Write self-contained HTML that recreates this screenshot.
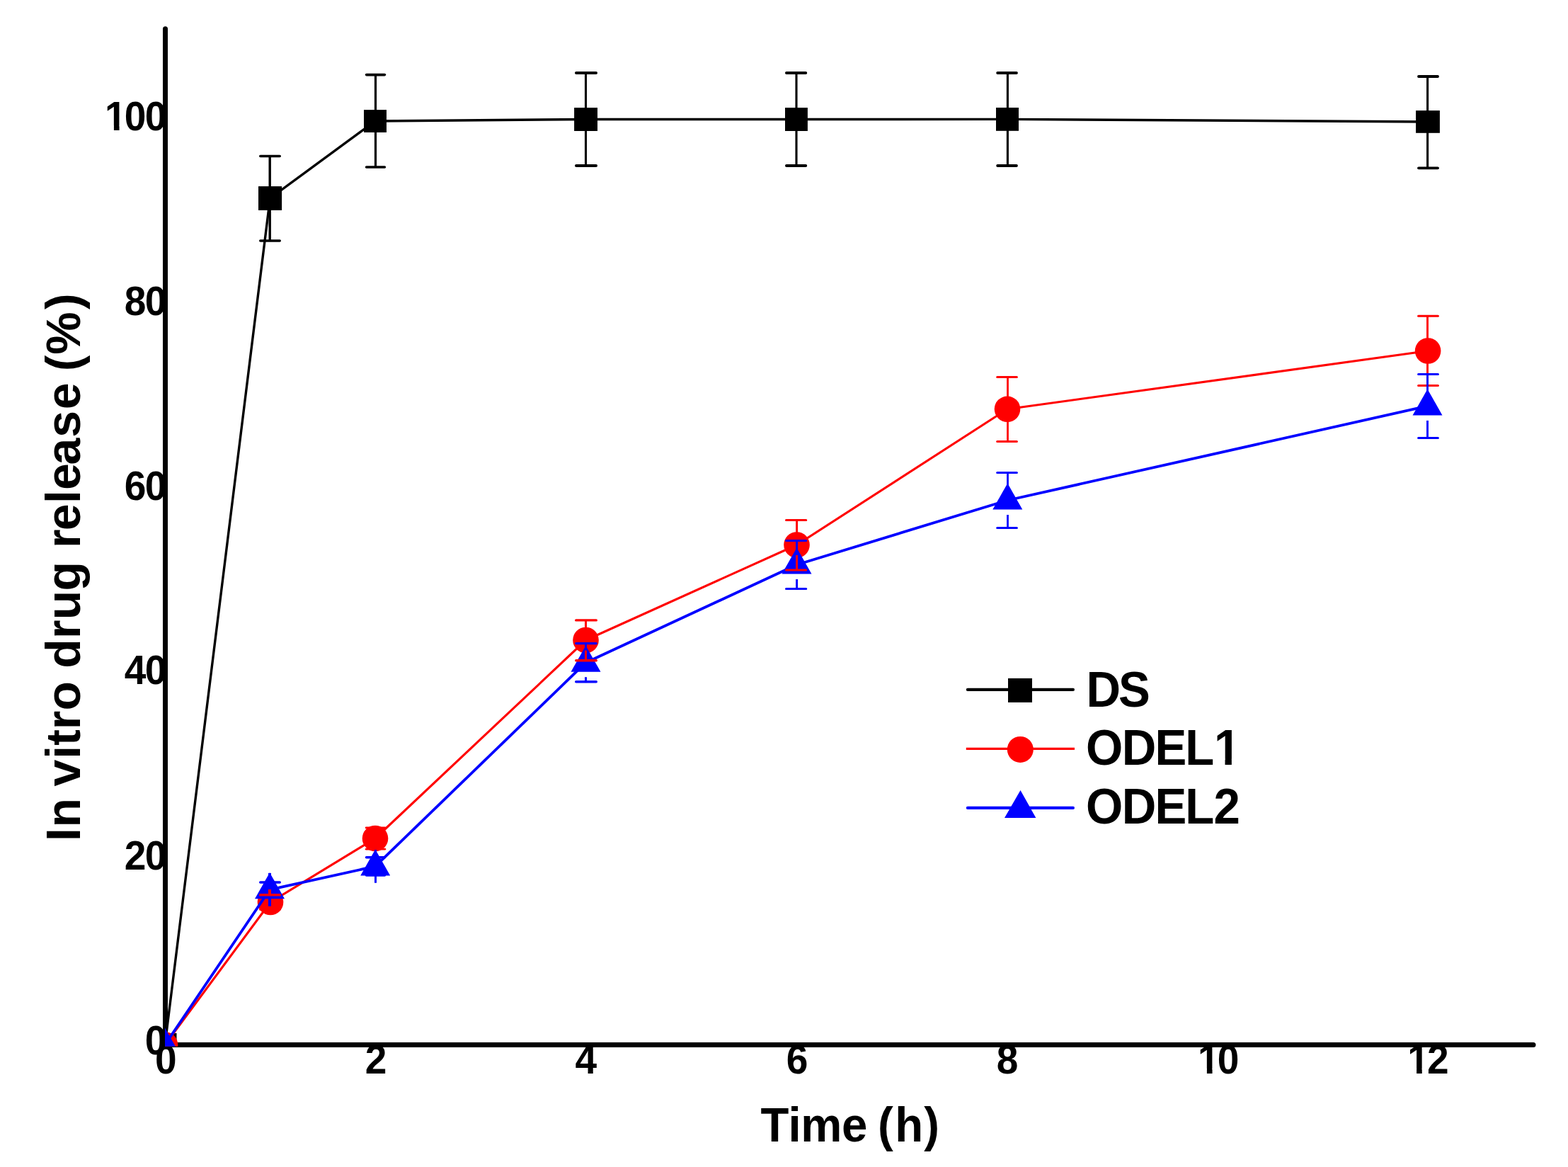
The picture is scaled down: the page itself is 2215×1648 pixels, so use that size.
<!DOCTYPE html>
<html lang="en">
<head>
<meta charset="utf-8">
<title>In vitro drug release (%) vs Time (h)</title>
<style>
html, body { margin: 0; padding: 0; background: #ffffff; }
body { width: 2215px; height: 1648px; overflow: hidden; }
svg { display: block; }
text { font-family: "Liberation Sans", Arial, Helvetica, sans-serif; font-weight: bold; fill: #000000; }
</style>
</head>
<body>
<svg width="2215" height="1648" viewBox="0 0 2215 1648">
<defs>
<clipPath id="plot"><rect x="233" y="0" width="1990" height="1477.7"/></clipPath>
<clipPath id="nofoot0"><rect x="-9000" y="-115.20" width="18000" height="108.32"/><rect x="168.31" y="-7.88" width="8.00" height="57.60"/><rect x="186.09" y="-7.88" width="9000" height="57.60"/></clipPath>
<clipPath id="nofoot1"><rect x="-9000" y="-115.20" width="18000" height="108.32"/><rect x="1783.37" y="-7.88" width="8.00" height="57.60"/><rect x="1801.16" y="-7.88" width="9000" height="57.60"/></clipPath>
<clipPath id="nofoot2"><rect x="-9000" y="-115.20" width="18000" height="108.32"/><rect x="2093.21" y="-7.88" width="8.00" height="57.60"/><rect x="2110.78" y="-7.88" width="9000" height="57.60"/></clipPath>
<clipPath id="nofoot3"><rect x="-9000" y="-141.00" width="18000" height="132.81"/><rect x="1815.88" y="-9.19" width="9.77" height="70.50"/><rect x="-9000" y="-9.19" width="10798.27" height="70.50"/></clipPath>
</defs>
<rect x="0" y="0" width="2215" height="1648" fill="#ffffff"/>
<g id="y-tick-labels">
<text transform="translate(0,184.40) scale(0.956,1)" x="154.92 183.91 214.14" font-size="57.6" clip-path="url(#nofoot0)">100</text>
<text transform="translate(0,444.50) scale(0.956,1)" x="183.91 214.14" font-size="57.6">80</text>
<text transform="translate(0,705.50) scale(0.956,1)" x="183.91 214.14" font-size="57.6">60</text>
<text transform="translate(0,966.40) scale(0.956,1)" x="183.91 214.14" font-size="57.6">40</text>
<text transform="translate(0,1228.30) scale(0.956,1)" x="183.91 214.14" font-size="57.6">20</text>
<text transform="translate(0,1489.40) scale(0.956,1)" x="214.14" font-size="57.6">0</text>
</g>
<g id="x-tick-labels">
<text transform="translate(0,1516.00) scale(0.956,1)" x="228.95" font-size="57.6">0</text>
<text transform="translate(0,1516.00) scale(0.956,1)" x="539.58" font-size="57.6">2</text>
<text transform="translate(0,1516.00) scale(0.956,1)" x="849.97" font-size="57.6">4</text>
<text transform="translate(0,1516.00) scale(0.956,1)" x="1161.85" font-size="57.6">6</text>
<text transform="translate(0,1516.00) scale(0.956,1)" x="1472.55" font-size="57.6">8</text>
<text transform="translate(0,1516.00) scale(0.956,1)" x="1769.98 1798.98" font-size="57.6" clip-path="url(#nofoot1)">10</text>
<text transform="translate(0,1516.00) scale(0.956,1)" x="2079.81 2108.88" font-size="57.6" clip-path="url(#nofoot2)">12</text>
</g>
<g id="axis-titles">
<text transform="translate(0,1612.10) scale(0.95,1)" x="1130.97 1172.04 1190.76 1251.45 1268.74 1305.14 1330.91 1373.89" font-size="68.8">Time (h)</text>
<text transform="translate(113.00,1200.00) rotate(-90) scale(0.985,1)" x="12.29 32.04 51.90 90.93 130.09 149.53 172.39 199.59 220.28 260.14 302.44 329.77 371.09 392.15 432.39 457.60 496.44 515.62 551.82 591.22 631.30 649.07 686.01 709.98 774.51" font-size="69.0">In vitro drug release (%)</text>
</g>
<g id="axes" stroke="#000" stroke-width="7" stroke-linecap="round">
<line x1="233.5" y1="40.8" x2="233.5" y2="1475.5"/>
<line x1="233.5" y1="1475.5" x2="2166" y2="1475.5"/>
</g>
<g id="series" clip-path="url(#plot)">
<polyline points="233.0,1475.5 381.5,280.0 530.0,171.0 827.5,168.5 1125.0,168.5 1423.0,168.4 2017.0,172.0" fill="none" stroke="#000000" stroke-width="3.4" stroke-linejoin="round"/>
<rect x="216.50" y="1459.00" width="33.0" height="33.0" fill="#000000"/>
<rect x="365.0" y="263.1" width="33.1" height="33.8" fill="#000000"/>
<rect x="514.0" y="155.1" width="32.0" height="31.9" fill="#000000"/>
<rect x="811.1" y="152.1" width="32.9" height="32.9" fill="#000000"/>
<rect x="1109.0" y="152.1" width="31.9" height="32.9" fill="#000000"/>
<rect x="1407.0" y="152.0" width="32.0" height="32.8" fill="#000000"/>
<rect x="2000.1" y="156.1" width="33.8" height="31.7" fill="#000000"/>
<polyline points="233.0,1475.5 382.0,1274.0 530.0,1184.0 827.5,904.0 1125.5,769.5 1423.0,577.8 2017.1,495.5" fill="none" stroke="#ff0000" stroke-width="3.1" stroke-linejoin="round"/>
<circle cx="233.0" cy="1475.5" r="18.3" fill="#ff0000"/>
<circle cx="382.0" cy="1274.0" r="18.3" fill="#ff0000"/>
<circle cx="530.0" cy="1184.0" r="18.3" fill="#ff0000"/>
<circle cx="827.5" cy="904.0" r="18.3" fill="#ff0000"/>
<circle cx="1125.5" cy="769.5" r="18.3" fill="#ff0000"/>
<circle cx="1423.0" cy="577.8" r="18.3" fill="#ff0000"/>
<circle cx="2017.1" cy="495.5" r="18.3" fill="#ff0000"/>
<polyline points="233.0,1475.5 381.0,1256.3 530.2,1223.4 827.5,935.7 1125.5,797.5 1423.3,706.5 2016.5,573.4" fill="none" stroke="#0000ff" stroke-width="3.8" stroke-linejoin="round"/>
<polygon points="233.0,1451.5 254.0,1488.5 212.0,1488.5" fill="#0000ff"/>
<polygon points="381.0,1232.3 402.0,1269.3 360.0,1269.3" fill="#0000ff"/>
<polygon points="530.2,1199.4 551.2,1236.4 509.2,1236.4" fill="#0000ff"/>
<polygon points="827.5,911.7 848.5,948.7 806.5,948.7" fill="#0000ff"/>
<polygon points="1125.5,773.5 1146.5,810.5 1104.5,810.5" fill="#0000ff"/>
<polygon points="1423.3,682.5 1444.3,719.5 1402.3,719.5" fill="#0000ff"/>
<polygon points="2016.5,549.4 2037.5,586.4 1995.5,586.4" fill="#0000ff"/>
<g id="error-bars">
<line x1="367.8" y1="220.5" x2="395.2" y2="220.5" stroke="#000000" stroke-width="3.6" stroke-linecap="round"/>
<line x1="381.2" y1="220.5" x2="381.2" y2="265.0" stroke="#000000" stroke-width="3.4"/>
<line x1="367.8" y1="340.0" x2="395.2" y2="340.0" stroke="#000000" stroke-width="3.6" stroke-linecap="round"/>
<line x1="381.2" y1="340.0" x2="381.2" y2="295.0" stroke="#000000" stroke-width="3.4"/>
<line x1="517.6" y1="105.6" x2="543.4" y2="105.6" stroke="#000000" stroke-width="3.6" stroke-linecap="round"/>
<line x1="530.5" y1="105.6" x2="530.5" y2="156.0" stroke="#000000" stroke-width="3.2"/>
<line x1="517.6" y1="236.0" x2="543.4" y2="236.0" stroke="#000000" stroke-width="3.6" stroke-linecap="round"/>
<line x1="530.5" y1="236.0" x2="530.5" y2="186.0" stroke="#000000" stroke-width="3.2"/>
<line x1="814.0" y1="102.9" x2="842.0" y2="102.9" stroke="#000000" stroke-width="4.0" stroke-linecap="round"/>
<line x1="827.5" y1="102.9" x2="827.5" y2="153.5" stroke="#000000" stroke-width="3.1"/>
<line x1="814.0" y1="234.0" x2="842.0" y2="234.0" stroke="#000000" stroke-width="4.0" stroke-linecap="round"/>
<line x1="827.5" y1="234.0" x2="827.5" y2="183.5" stroke="#000000" stroke-width="3.1"/>
<line x1="1111.0" y1="102.9" x2="1138.2" y2="102.9" stroke="#000000" stroke-width="4.0" stroke-linecap="round"/>
<line x1="1125.0" y1="102.9" x2="1125.0" y2="153.5" stroke="#000000" stroke-width="3.1"/>
<line x1="1111.0" y1="234.0" x2="1138.2" y2="234.0" stroke="#000000" stroke-width="4.0" stroke-linecap="round"/>
<line x1="1125.0" y1="234.0" x2="1125.0" y2="183.5" stroke="#000000" stroke-width="3.1"/>
<line x1="1409.2" y1="102.9" x2="1435.9" y2="102.9" stroke="#000000" stroke-width="4.0" stroke-linecap="round"/>
<line x1="1423.4" y1="102.9" x2="1423.4" y2="153.4" stroke="#000000" stroke-width="3.1"/>
<line x1="1409.2" y1="234.0" x2="1435.9" y2="234.0" stroke="#000000" stroke-width="4.0" stroke-linecap="round"/>
<line x1="1423.4" y1="234.0" x2="1423.4" y2="183.4" stroke="#000000" stroke-width="3.1"/>
<line x1="2004.0" y1="108.0" x2="2031.0" y2="108.0" stroke="#000000" stroke-width="3.8" stroke-linecap="round"/>
<line x1="2016.6" y1="108.0" x2="2016.6" y2="157.0" stroke="#000000" stroke-width="3.1"/>
<line x1="2004.0" y1="237.3" x2="2031.0" y2="237.3" stroke="#000000" stroke-width="3.8" stroke-linecap="round"/>
<line x1="2016.6" y1="237.3" x2="2016.6" y2="187.0" stroke="#000000" stroke-width="3.1"/>
<line x1="367.9" y1="1264.0" x2="395.1" y2="1264.0" stroke="#ff0000" stroke-width="3.8" stroke-linecap="round"/>
<line x1="381.0" y1="1264.0" x2="381.0" y2="1255.9" stroke="#ff0000" stroke-width="4.0"/>
<line x1="367.9" y1="1284.0" x2="395.1" y2="1284.0" stroke="#ff0000" stroke-width="3.8" stroke-linecap="round"/>
<line x1="381.0" y1="1284.0" x2="381.0" y2="1292.1" stroke="#ff0000" stroke-width="4.0"/>
<line x1="517.2" y1="1169.0" x2="543.8" y2="1169.0" stroke="#ff0000" stroke-width="2.8" stroke-linecap="round"/>
<line x1="530.4" y1="1169.0" x2="530.4" y2="1169.5" stroke="#ff0000" stroke-width="3.0"/>
<line x1="517.2" y1="1199.2" x2="543.8" y2="1199.2" stroke="#ff0000" stroke-width="2.8" stroke-linecap="round"/>
<line x1="530.4" y1="1199.2" x2="530.4" y2="1198.5" stroke="#ff0000" stroke-width="3.0"/>
<line x1="813.7" y1="875.9" x2="842.3" y2="875.9" stroke="#ff0000" stroke-width="3.4" stroke-linecap="round"/>
<line x1="827.5" y1="875.9" x2="827.5" y2="889.5" stroke="#ff0000" stroke-width="3.0"/>
<line x1="813.7" y1="932.8" x2="842.3" y2="932.8" stroke="#ff0000" stroke-width="3.4" stroke-linecap="round"/>
<line x1="827.5" y1="932.8" x2="827.5" y2="918.5" stroke="#ff0000" stroke-width="3.0"/>
<line x1="1110.5" y1="734.4" x2="1138.7" y2="734.4" stroke="#ff0000" stroke-width="3.0" stroke-linecap="round"/>
<line x1="1125.6" y1="734.4" x2="1125.6" y2="755.0" stroke="#ff0000" stroke-width="3.0"/>
<line x1="1110.5" y1="805.0" x2="1138.7" y2="805.0" stroke="#ff0000" stroke-width="3.0" stroke-linecap="round"/>
<line x1="1125.6" y1="805.0" x2="1125.6" y2="784.0" stroke="#ff0000" stroke-width="3.0"/>
<line x1="1408.7" y1="532.4" x2="1436.4" y2="532.4" stroke="#ff0000" stroke-width="3.0" stroke-linecap="round"/>
<line x1="1423.5" y1="532.4" x2="1423.5" y2="563.3" stroke="#ff0000" stroke-width="2.8"/>
<line x1="1408.7" y1="623.4" x2="1436.4" y2="623.4" stroke="#ff0000" stroke-width="3.0" stroke-linecap="round"/>
<line x1="1423.5" y1="623.4" x2="1423.5" y2="592.3" stroke="#ff0000" stroke-width="2.8"/>
<line x1="2003.6" y1="446.3" x2="2031.4" y2="446.3" stroke="#ff0000" stroke-width="3.0" stroke-linecap="round"/>
<line x1="2016.5" y1="446.3" x2="2016.5" y2="481.0" stroke="#ff0000" stroke-width="2.9"/>
<line x1="2003.6" y1="544.6" x2="2031.4" y2="544.6" stroke="#ff0000" stroke-width="3.0" stroke-linecap="round"/>
<line x1="2016.5" y1="544.6" x2="2016.5" y2="510.0" stroke="#ff0000" stroke-width="2.9"/>
<line x1="367.8" y1="1246.0" x2="395.2" y2="1246.0" stroke="#0000ff" stroke-width="3.6" stroke-linecap="round"/>
<line x1="381.0" y1="1246.0" x2="381.0" y2="1232.9" stroke="#0000ff" stroke-width="4.0"/>
<line x1="367.8" y1="1267.2" x2="395.2" y2="1267.2" stroke="#0000ff" stroke-width="3.6" stroke-linecap="round"/>
<line x1="381.0" y1="1267.2" x2="381.0" y2="1279.7" stroke="#0000ff" stroke-width="4.0"/>
<line x1="517.5" y1="1210.8" x2="543.5" y2="1210.8" stroke="#0000ff" stroke-width="3.4" stroke-linecap="round"/>
<line x1="530.5" y1="1210.8" x2="530.5" y2="1200.0" stroke="#0000ff" stroke-width="3.0"/>
<line x1="517.5" y1="1236.0" x2="543.5" y2="1236.0" stroke="#0000ff" stroke-width="3.4" stroke-linecap="round"/>
<line x1="530.5" y1="1236.0" x2="530.5" y2="1246.8" stroke="#0000ff" stroke-width="3.0"/>
<line x1="813.7" y1="908.6" x2="842.3" y2="908.6" stroke="#0000ff" stroke-width="3.4" stroke-linecap="round"/>
<line x1="827.5" y1="908.6" x2="827.5" y2="915.2" stroke="#0000ff" stroke-width="3.0"/>
<line x1="813.7" y1="962.8" x2="842.3" y2="962.8" stroke="#0000ff" stroke-width="3.4" stroke-linecap="round"/>
<line x1="827.5" y1="962.8" x2="827.5" y2="956.2" stroke="#0000ff" stroke-width="3.0"/>
<line x1="1110.5" y1="763.5" x2="1138.7" y2="763.5" stroke="#0000ff" stroke-width="3.0" stroke-linecap="round"/>
<line x1="1125.6" y1="763.5" x2="1125.6" y2="777.0" stroke="#0000ff" stroke-width="3.0"/>
<line x1="1110.5" y1="831.4" x2="1138.7" y2="831.4" stroke="#0000ff" stroke-width="3.0" stroke-linecap="round"/>
<line x1="1125.6" y1="831.4" x2="1125.6" y2="818.0" stroke="#0000ff" stroke-width="3.0"/>
<line x1="1408.7" y1="667.4" x2="1436.4" y2="667.4" stroke="#0000ff" stroke-width="3.0" stroke-linecap="round"/>
<line x1="1423.5" y1="667.4" x2="1423.5" y2="686.0" stroke="#0000ff" stroke-width="2.8"/>
<line x1="1408.7" y1="745.5" x2="1436.4" y2="745.5" stroke="#0000ff" stroke-width="3.0" stroke-linecap="round"/>
<line x1="1423.5" y1="745.5" x2="1423.5" y2="727.0" stroke="#0000ff" stroke-width="2.8"/>
<line x1="2003.6" y1="528.4" x2="2031.4" y2="528.4" stroke="#0000ff" stroke-width="3.0" stroke-linecap="round"/>
<line x1="2016.5" y1="528.4" x2="2016.5" y2="552.9" stroke="#0000ff" stroke-width="2.9"/>
<line x1="2003.6" y1="618.4" x2="2031.4" y2="618.4" stroke="#0000ff" stroke-width="3.0" stroke-linecap="round"/>
<line x1="2016.5" y1="618.4" x2="2016.5" y2="593.9" stroke="#0000ff" stroke-width="2.9"/>
</g>
</g>
<g id="legend">
<line x1="1366.9" y1="973.9" x2="1515.9" y2="973.9" stroke="#000000" stroke-width="4.2" stroke-linecap="round"/>
<rect x="1424.00" y="957.90" width="34" height="34" fill="#000000"/>
<text transform="translate(0,997.90) scale(0.953,1)" x="1610.14 1657.99" font-size="70.5">DS</text>
<line x1="1364.8" y1="1057.4" x2="1518.0" y2="1057.4" stroke="#ff0000" stroke-width="3.2"/>
<circle cx="1441.3" cy="1058.4" r="18.5" fill="#ff0000"/>
<text transform="translate(0,1079.90) scale(0.953,1)" x="1609.70 1662.86 1711.97 1756.88 1799.48" font-size="70.5" clip-path="url(#nofoot3)">ODEL1</text>
<line x1="1366.9" y1="1140.9" x2="1515.9" y2="1140.9" stroke="#0000ff" stroke-width="4.2" stroke-linecap="round"/>
<polygon points="1441.5,1116.1 1463.4,1154.9 1419.0,1154.9" fill="#0000ff"/>
<text transform="translate(0,1162.70) scale(0.953,1)" x="1609.70 1662.86 1711.97 1756.88 1799.13" font-size="70.5">ODEL2</text>
</g>
</svg>
</body>
</html>
